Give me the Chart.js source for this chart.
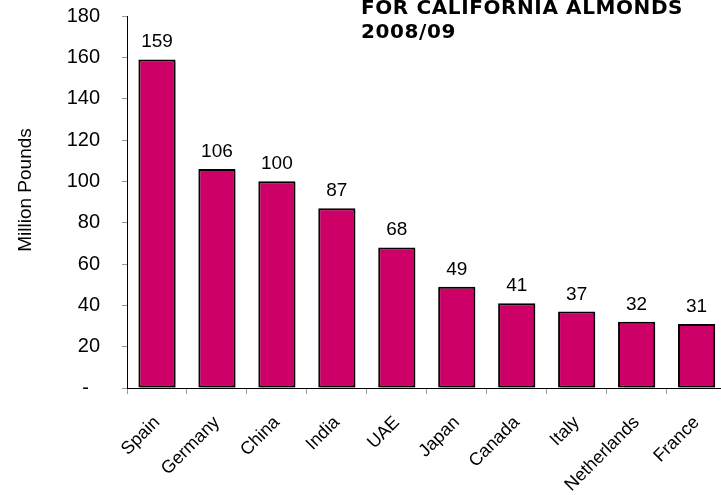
<!DOCTYPE html>
<html>
<head>
<meta charset="utf-8">
<script src="https://cdn.jsdelivr.net/npm/chart.js@4/dist/chart.umd.min.js"></script>
<style>
  html, body { margin: 0; padding: 0; background: #fff; overflow: hidden; }
  #wrap { width: 721px; height: 495px; overflow: hidden; position: relative; }
</style>
</head>
<body>
<div id="wrap"><canvas id="chart01" width="730" height="495"></canvas></div>
<script>
const markets = ["Spain", "Germany", "China", "India", "UAE", "Japan", "Canada", "Italy", "Netherlands", "France"];
const exportsMlb = [159, 106, 100, 87, 68, 49, 41, 37, 32, 31];
const titleLines = ["FOR CALIFORNIA ALMONDS", "2008/09"];
const yAxisTitle = "Million Pounds";

const barShadow = {
  id: "barShadow",
  beforeDatasetsDraw(chart) {
    const ctx = chart.ctx;
    ctx.save();
    ctx.shadowColor = "rgba(0,0,0,0.3)";
    ctx.shadowOffsetX = 2;
    ctx.shadowOffsetY = 2;
    ctx.shadowBlur = 1;
  },
  afterDatasetsDraw(chart) {
    chart.ctx.restore();
  },
};

const valueLabels = {
  id: "valueLabels",
  afterDatasetsDraw(chart) {
    const ctx = chart.ctx;
    const meta = chart.getDatasetMeta(0);
    ctx.save();
    ctx.font = "19px 'Liberation Sans', Arial, sans-serif";
    ctx.fillStyle = "#000";
    ctx.textAlign = "center";
    ctx.textBaseline = "alphabetic";
    meta.data.forEach((bar, i) => {
      ctx.fillText(String(exportsMlb[i]), bar.x, bar.y - 12);
    });
    ctx.restore();
  },
};

const chartTitle = {
  id: "chartTitle",
  afterDraw(chart) {
    const ctx = chart.ctx;
    ctx.save();
    ctx.font = "bold 20px 'DejaVu Sans', Verdana, sans-serif";
    ctx.letterSpacing = "0.6px";
    ctx.fillStyle = "#000";
    ctx.textAlign = "left";
    ctx.textBaseline = "alphabetic";
    ctx.fillText(titleLines[0], 361, 14);
    ctx.fillText(titleLines[1], 361, 38);
    ctx.restore();

    // y axis title
    ctx.save();
    ctx.font = "19px 'Liberation Sans', Arial, sans-serif";
    ctx.fillStyle = "#000";
    ctx.textAlign = "center";
    ctx.textBaseline = "middle";
    ctx.translate(26, 190);
    ctx.rotate(-Math.PI / 2);
    ctx.fillText(yAxisTitle, 0, 0);
    ctx.restore();
  },
};

const ctx01 = document.getElementById("chart01").getContext("2d");
const myChart01 = new Chart(ctx01, {
  type: "bar",
  data: {
    labels: markets,
    datasets: [
      {
        data: exportsMlb,
        backgroundColor: "#cc0066",
        borderColor: "#000",
        borderWidth: 2,
        borderSkipped: false,
        barPercentage: 0.62,
        categoryPercentage: 1,
      },
    ],
  },
  options: {
    responsive: false,
    animation: false,
    layout: { padding: { top: 16, right: 3, left: 0, bottom: 0 } },
    plugins: {
      legend: { display: false },
      tooltip: { enabled: false },
    },
    scales: {
      x: {
        afterFit(scale) {
          scale.height = 107;
        },
        border: { color: "#000", width: 1 },
        grid: {
          offset: true,
          drawOnChartArea: false,
          tickLength: 6,
          color: "#999",
        },
        ticks: {
          minRotation: 45,
          maxRotation: 45,
          padding: 18,
          color: "#000",
          font: { family: "'Liberation Sans', Arial, sans-serif", size: 18 },
        },
      },
      y: {
        min: 0,
        max: 180,
        afterFit(scale) {
          scale.width = 127;
          scale.paddingTop = 0;
          scale.paddingBottom = 0;
        },
        border: { color: "#000", width: 1 },
        grid: {
          drawOnChartArea: false,
          tickLength: 5,
          color: "#999",
        },
        ticks: {
          stepSize: 20,
          padding: 22,
          color: "#000",
          font: { family: "'Liberation Sans', Arial, sans-serif", size: 20 },
          callback: (v) => (v === 0 ? "-  " : v),
        },
      },
    },
  },
  plugins: [barShadow, valueLabels, chartTitle],
});
</script>
</body>
</html>
